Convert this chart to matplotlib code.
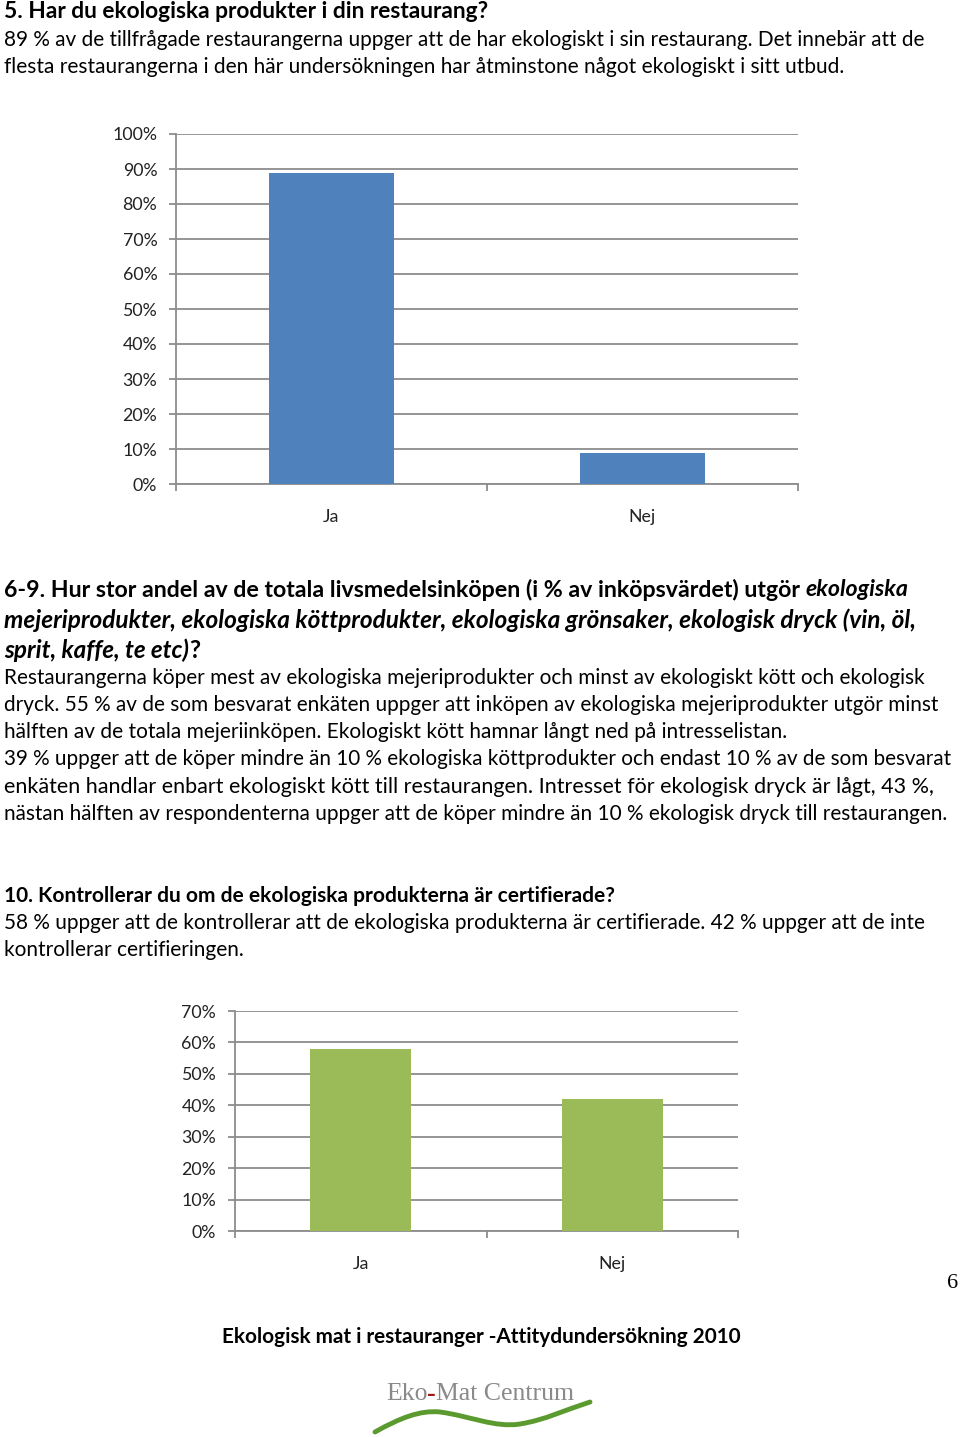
import matplotlib
matplotlib.use("Agg")
import matplotlib.pyplot as plt
from matplotlib.path import Path
from matplotlib.patches import PathPatch

# page size in pixels
W, H = 960, 1437
FONT = "Lato"
GRID = "#8c8c8c"

# chart 1: Har du ekologiska produkter i din restaurang?
cats1 = ["Ja", "Nej"]
vals1 = [89, 9]
# chart 2: Kontrollerar du om de ekologiska produkterna är certifierade?
cats2 = ["Ja", "Nej"]
vals2 = [58, 42]

fig = plt.figure(figsize=(W / 100, H / 100), dpi=100)
renderer = fig.canvas.get_renderer()


def px_axes(left, top, right, bottom):
    return fig.add_axes([left / W, 1 - bottom / H, (right - left) / W, (bottom - top) / H])


def bar_chart(ax, cats, vals, ymax, color):
    ax.bar(range(len(cats)), vals, width=0.4, color=color, zorder=3)
    ax.set_xlim(-0.5, len(cats) - 0.5)
    ax.set_ylim(0, ymax)
    ticks = list(range(0, ymax + 1, 10))
    ax.set_yticks(ticks)
    ax.set_yticklabels([f"{t}%" for t in ticks], fontfamily=FONT, fontsize=12.8, color="#222222")
    ax.yaxis.grid(True, color=GRID, lw=1.3, zorder=0)
    ax.set_xticks(range(len(cats)))
    ax.set_xticklabels(cats, fontfamily=FONT, fontsize=12.8, color="#222222")
    ax.set_xticks([i - 0.5 for i in range(len(cats) + 1)], minor=True)
    ax.tick_params(axis="x", which="major", length=0, pad=18)
    ax.tick_params(axis="x", which="minor", length=5, color=GRID, width=1.3)
    ax.tick_params(axis="y", length=5, color=GRID, width=1.3, pad=8.5)
    for s in ("top", "right"):
        ax.spines[s].set_visible(False)
    for s in ("left", "bottom"):
        ax.spines[s].set_color(GRID)
        ax.spines[s].set_linewidth(1.3)
    ax.set_axisbelow(True)


ax1 = px_axes(176, 134, 798, 484)
bar_chart(ax1, cats1, vals1, 100, "#4f81bd")

ax2 = px_axes(235, 1011, 738, 1231)
bar_chart(ax2, cats2, vals2, 70, "#9bbb59")


# text lines made of styled pieces, laid out left to right
def measure(s, size, weight, style):
    t = fig.text(0, 0, s, fontfamily=FONT, fontsize=size, fontweight=weight, fontstyle=style)
    w = t.get_window_extent(renderer).width
    t.remove()
    return w


def layout(pieces, size, x, y=None):
    for s, weight, style in pieces:
        sp = measure("a a", size, weight, style) - measure("aa", size, weight, style)
        lead = len(s) - len(s.lstrip(" "))
        trail = len(s) - len(s.rstrip(" "))
        x += lead * sp
        core = s.strip(" ")
        if core:
            if y is None:
                x += measure(core, size, weight, style)
            else:
                t = fig.text(x / W, 1 - y / H, core, fontfamily=FONT, fontsize=size,
                             fontweight=weight, fontstyle=style, va="center", ha="left")
                x += t.get_window_extent(renderer).width
        x += trail * sp
    return x


def line(y, pieces, end, x=4, size=14.8):
    # scale font so the line ends where it does on the page
    w = layout(pieces, size, 0)
    size = size * (end - x) / w
    layout(pieces, size, x, y)


N, B = "normal", "bold"
R, I = "normal", "italic"

line(12, [("5. Har du ekologiska produkter i din restaurang?", B, R)], 490)
line(40, [("89 % av de tillfrågade restaurangerna uppger att de har ekologiskt i sin restaurang. Det innebär att de", N, R)], 925)
line(67, [("flesta restaurangerna i den här undersökningen har åtminstone något ekologiskt i sitt utbud.", N, R)], 843)

line(590, [("6-9. Hur stor andel av de totala livsmedelsinköpen (i % av inköpsvärdet) utgör ", B, R),
           ("ekologiska", B, I)], 905)
line(620, [("mejeriprodukter, ekologiska köttprodukter, ekologiska grönsaker, ekologisk dryck (vin, öl,", B, I)], 912)
line(650, [("sprit, kaffe, te etc)", B, I), ("?", B, R)], 200)

line(678, [("Restaurangerna köper mest av ekologiska mejeriprodukter och minst av ekologiskt kött och ekologisk", N, R)], 923)
line(705, [("dryck. 55 % av de som besvarat enkäten uppger att inköpen av ekologiska mejeriprodukter utgör minst", N, R)], 937)
line(732, [("hälften av de totala mejeriinköpen. Ekologiskt kött hamnar långt ned på intresselistan.", N, R)], 786)
line(759, [("39 % uppger att de köper mindre än 10 % ekologiska köttprodukter och endast 10 % av de som besvarat", N, R)], 947)
line(787, [("enkäten handlar enbart ekologiskt kött till restaurangen. Intresset för ekologisk dryck är lågt, 43 %,", N, R)], 932)
line(814, [("nästan hälften av respondenterna uppger att de köper mindre än 10 % ekologisk dryck till restaurangen.", N, R)], 947)

line(896, [("10. Kontrollerar du om de ekologiska produkterna är certifierade?", B, R)], 614)
line(923, [("58 % uppger att de kontrollerar att de ekologiska produkterna är certifierade. 42 % uppger att de inte", N, R)], 924)
line(950, [("kontrollerar certifieringen.", N, R)], 244)

# page number and footer
fig.text(953 / W, 1 - 1283 / H, "6", fontfamily="Liberation Serif", fontsize=16, ha="center", va="center")
line(1337, [("Ekologisk mat i restauranger -Attitydundersökning 2010", B, R)], 740, x=222)

# logo
lx, ly = 386, 1394
for s, c in [("Eko", "#8a8a8a"), ("-", "#a01818"), ("Mat Centrum", "#8a8a8a")]:
    t = fig.text(lx / W, 1 - ly / H, s, fontfamily="Liberation Serif", fontsize=18.5,
                 color=c, fontweight="bold" if s == "-" else "normal", ha="left", va="center")
    lx += t.get_window_extent(renderer).width

wave_pts = [(375, 1432), (400, 1418), (420, 1410), (440, 1412),
            (470, 1416), (495, 1428), (520, 1424),
            (545, 1420), (565, 1410), (590, 1402)]
codes = [Path.MOVETO] + [Path.CURVE4] * 9
verts = [(x / W, 1 - y / H) for x, y in wave_pts]
fig.add_artist(PathPatch(Path(verts, codes), transform=fig.transFigure,
                         fill=False, edgecolor="#5a9a2e", lw=3.5, capstyle="round"))

fig.savefig("out.png", dpi=100)
